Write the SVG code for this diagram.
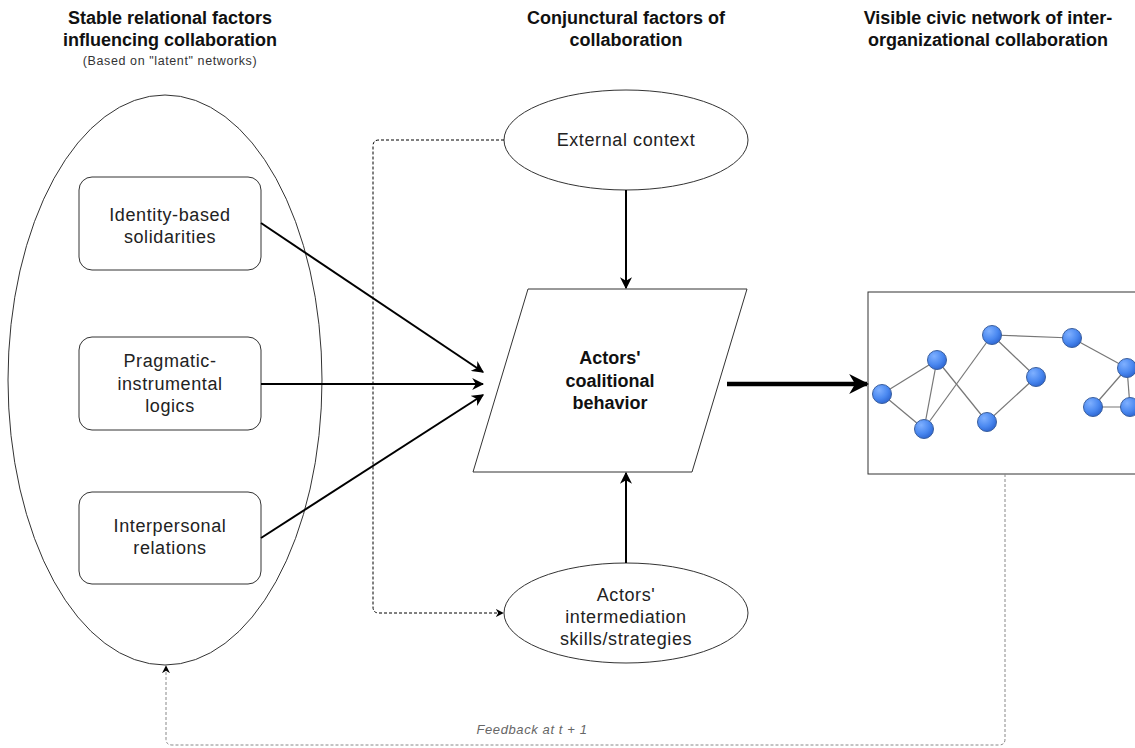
<svg xmlns="http://www.w3.org/2000/svg" width="1135" height="748" viewBox="0 0 1135 748">
  <defs>
    <style>
      .title { font-family: "Liberation Sans", Arial, sans-serif; font-size: 18px; font-weight: bold; fill: #111; text-anchor: middle; }
      .sub { font-family: "Liberation Sans", Arial, sans-serif; font-size: 12.5px; letter-spacing: 0.6px; fill: #333; text-anchor: middle; }
      .lbl { font-family: "Liberation Sans", Arial, sans-serif; font-size: 18px; letter-spacing: 0.6px; fill: #222; text-anchor: middle; }
      .lblb { font-family: "Liberation Sans", Arial, sans-serif; font-size: 18px; font-weight: bold; fill: #111; text-anchor: middle; }
      .fb { font-family: "Liberation Sans", Arial, sans-serif; font-size: 13px; letter-spacing: 0.6px; font-style: italic; fill: #666; text-anchor: middle; }
      .shape { fill: #fff; stroke: #333; stroke-width: 1; }
      .edge { fill: none; stroke: #000; stroke-width: 2; }
      .edge-main { fill: none; stroke: #000; stroke-width: 4.5; }
      .dash { fill: none; stroke: #000; stroke-width: 1; stroke-dasharray: 3 2; }
      .fbline { fill: none; stroke: #888; stroke-width: 1; stroke-dasharray: 3 2; }
      .net { stroke: #777; stroke-width: 1.2; }
      .dot { fill: url(#ball); stroke: #3a5f9e; stroke-width: 1; }
    </style>
    <marker id="arr" viewBox="0 0 10 10" refX="9" refY="5" markerWidth="6" markerHeight="6" markerUnits="strokeWidth" orient="auto">
      <path d="M0,0 L10,5 L0,10 L3,5 Z" fill="#000"/>
    </marker>
    <marker id="arrBig" viewBox="0 0 10 10" refX="9" refY="5" markerWidth="4.4" markerHeight="4.4" markerUnits="strokeWidth" orient="auto">
      <path d="M0,0 L10,5 L0,10 L3,5 Z" fill="#000"/>
    </marker>
    <marker id="arrSmall" viewBox="0 0 10 10" refX="9" refY="5" markerWidth="8" markerHeight="8" markerUnits="strokeWidth" orient="auto">
      <path d="M0,0 L10,5 L0,10 L3,5 Z" fill="#000"/>
    </marker>
    <radialGradient id="ball" cx="0.35" cy="0.3" r="0.75">
      <stop offset="0" stop-color="#7fb0ff"/>
      <stop offset="0.6" stop-color="#4a88f0"/>
      <stop offset="1" stop-color="#2c64d0"/>
    </radialGradient>
  </defs>

  <rect x="0" y="0" width="1135" height="748" fill="#fff"/>

  <!-- column headings -->
  <g id="heading-stable">
    <text class="title" x="170" y="24">Stable relational factors</text>
    <text class="title" x="170" y="46">influencing collaboration</text>
    <text class="sub" x="170" y="65">(Based on "latent" networks)</text>
  </g>
  <g id="heading-conjunctural">
    <text class="title" x="626" y="24">Conjunctural factors of</text>
    <text class="title" x="626" y="46">collaboration</text>
  </g>
  <g id="heading-visible">
    <text class="title" x="988" y="24">Visible civic network of inter-</text>
    <text class="title" x="988" y="46">organizational collaboration</text>
  </g>

  <!-- stable factors container -->
  <g id="stable-factors">
    <ellipse class="shape" cx="165" cy="380" rx="157" ry="285"/>
  </g>

  <g id="identity">
    <rect class="shape" x="79" y="177" width="182" height="93" rx="13"/>
    <text class="lbl" x="170" y="221">Identity-based</text>
    <text class="lbl" x="170" y="243">solidarities</text>
  </g>
  <g id="pragmatic">
    <rect class="shape" x="79" y="337" width="182" height="93" rx="13"/>
    <text class="lbl" x="170" y="367">Pragmatic-</text>
    <text class="lbl" x="170" y="390">instrumental</text>
    <text class="lbl" x="170" y="412">logics</text>
  </g>
  <g id="interpersonal">
    <rect class="shape" x="79" y="492" width="182" height="92" rx="13"/>
    <text class="lbl" x="170" y="532">Interpersonal</text>
    <text class="lbl" x="170" y="554">relations</text>
  </g>

  <g id="external-context">
    <ellipse class="shape" cx="626" cy="140" rx="122" ry="50"/>
    <text class="lbl" x="626" y="146">External context</text>
  </g>

  <g id="coalitional-behavior">
    <polygon class="shape" points="528,289 747,289 692,472 473,472"/>
    <text class="lblb" x="610" y="364">Actors'</text>
    <text class="lblb" x="610" y="387">coalitional</text>
    <text class="lblb" x="610" y="409">behavior</text>
  </g>

  <g id="intermediation">
    <ellipse class="shape" cx="626" cy="613" rx="122" ry="50"/>
    <text class="lbl" x="626" y="601">Actors'</text>
    <text class="lbl" x="626" y="623">intermediation</text>
    <text class="lbl" x="626" y="645">skills/strategies</text>
  </g>

  <!-- visible network panel -->
  <g id="civic-network">
    <rect class="shape" x="868" y="292" width="290" height="182"/>
    <g class="net">
      <line x1="882" y1="394" x2="937" y2="360"/>
      <line x1="882" y1="394" x2="924" y2="429"/>
      <line x1="937" y1="360" x2="924" y2="429"/>
      <line x1="937" y1="360" x2="987" y2="422"/>
      <line x1="924" y1="429" x2="992" y2="335"/>
      <line x1="992" y1="335" x2="1036" y2="377"/>
      <line x1="1036" y1="377" x2="987" y2="422"/>
      <line x1="992" y1="335" x2="1072" y2="338"/>
      <line x1="1072" y1="338" x2="1127" y2="368"/>
      <line x1="1127" y1="368" x2="1093" y2="407"/>
      <line x1="1127" y1="368" x2="1130" y2="407"/>
      <line x1="1093" y1="407" x2="1130" y2="407"/>
    </g>
    <circle class="dot" cx="882" cy="394" r="9.5"/>
    <circle class="dot" cx="937" cy="360" r="9.5"/>
    <circle class="dot" cx="924" cy="429" r="9.5"/>
    <circle class="dot" cx="992" cy="335" r="9.5"/>
    <circle class="dot" cx="1036" cy="377" r="9.5"/>
    <circle class="dot" cx="987" cy="422" r="9.5"/>
    <circle class="dot" cx="1072" cy="338" r="9.5"/>
    <circle class="dot" cx="1127" cy="368" r="9.5"/>
    <circle class="dot" cx="1093" cy="407" r="9.5"/>
    <circle class="dot" cx="1130" cy="407" r="9.5"/>
  </g>

  <!-- connectors -->
  <g id="connectors">
    <line class="edge" x1="261" y1="223" x2="483" y2="372" marker-end="url(#arr)"/>
    <line class="edge" x1="261" y1="384" x2="483" y2="384" marker-end="url(#arr)"/>
    <line class="edge" x1="261" y1="538" x2="483" y2="395" marker-end="url(#arr)"/>
    <line class="edge" x1="626" y1="190" x2="626" y2="288" marker-end="url(#arr)"/>
    <line class="edge" x1="626" y1="563" x2="626" y2="473" marker-end="url(#arr)"/>
    <line class="edge-main" x1="727" y1="384" x2="867" y2="384" marker-end="url(#arrBig)"/>
    <path class="dash" d="M504,140 L379,140 Q373,140 373,146 L373,607 Q373,613 379,613 L503,613" marker-end="url(#arrSmall)"/>
    <path class="fbline" d="M1005,474 L1005,739 Q1005,745 999,745 L172,745 Q166,745 166,739 L166,666" marker-end="url(#arrSmall)"/>
    <text class="fb" x="532" y="734">Feedback at t + 1</text>
  </g>
</svg>
